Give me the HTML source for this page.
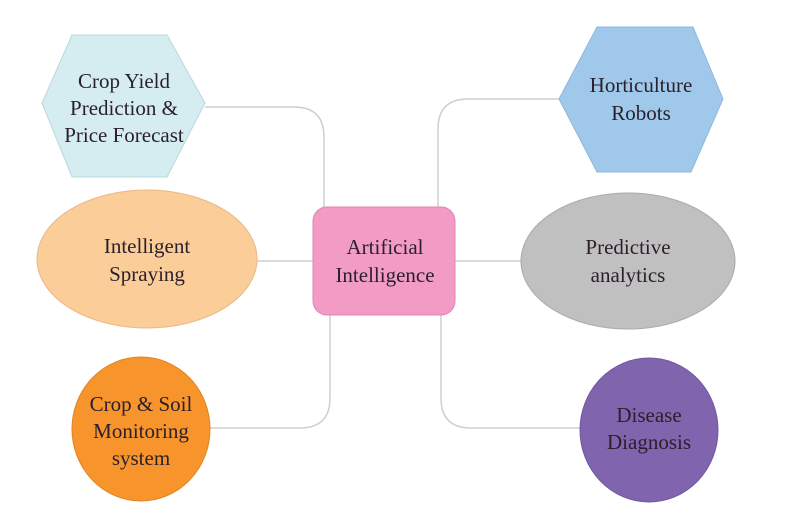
<!DOCTYPE html>
<html><head><meta charset="utf-8"><style>
html,body{margin:0;padding:0;background:#fff;}
svg{display:block;}
text{font-family:"Liberation Serif","Times New Roman","DejaVu Serif",serif;font-size:21px;fill:#2a1f2a;text-anchor:middle;}
</style></head><body>
<svg width="792" height="527" viewBox="0 0 792 527" xmlns="http://www.w3.org/2000/svg">
<g fill="none" stroke="#cfcfcf" stroke-width="1.5">
<path d="M205 107 H294 Q324 107 324 137 V207"/>
<path d="M559 99 H468 Q438 99 438 129 V207"/>
<path d="M257 261 H313"/>
<path d="M455 261 H521"/>
<path d="M330 315 V398 Q330 428 300 428 H210"/>
<path d="M441 315 V398 Q441 428 471 428 H580"/>
</g>
<polygon points="72,35 167,35 205,103 167,177 72,177 42,103" fill="#d5edf1" stroke="#b8d8de" stroke-width="1"/>
<polygon points="597,27 693,27 723,99 691,172 597,172 559,99" fill="#9fc8ea" stroke="#8fb8dc" stroke-width="1"/>
<ellipse cx="147" cy="259" rx="110" ry="69" fill="#fbcd98" stroke="#e9b886" stroke-width="1"/>
<ellipse cx="628" cy="261" rx="107" ry="68" fill="#c0c0c0" stroke="#aaa" stroke-width="1"/>
<rect x="313" y="207" width="142" height="108" rx="14" fill="#f29bc5" stroke="#e084b0" stroke-width="1"/>
<ellipse cx="141" cy="429" rx="69" ry="72" fill="#f7942c" stroke="#e08420" stroke-width="1"/>
<ellipse cx="649" cy="430" rx="69" ry="72" fill="#8064ad" stroke="#7058a0" stroke-width="1"/>
<g font-family="Liberation Serif, Times New Roman, DejaVu Serif, serif">
<text x="124" y="88">Crop Yield</text>
<text x="124" y="115">Prediction &amp;</text>
<text x="124" y="142">Price Forecast</text>
<text x="641" y="92">Horticulture</text>
<text x="641" y="120">Robots</text>
<text x="147" y="253">Intelligent</text>
<text x="147" y="281">Spraying</text>
<text x="385" y="254">Artificial</text>
<text x="385" y="282">Intelligence</text>
<text x="628" y="254">Predictive</text>
<text x="628" y="282">analytics</text>
<text x="141" y="411">Crop &amp; Soil</text>
<text x="141" y="438">Monitoring</text>
<text x="141" y="465">system</text>
<text x="649" y="422">Disease</text>
<text x="649" y="449">Diagnosis</text>
</g>
</svg>
</body></html>
